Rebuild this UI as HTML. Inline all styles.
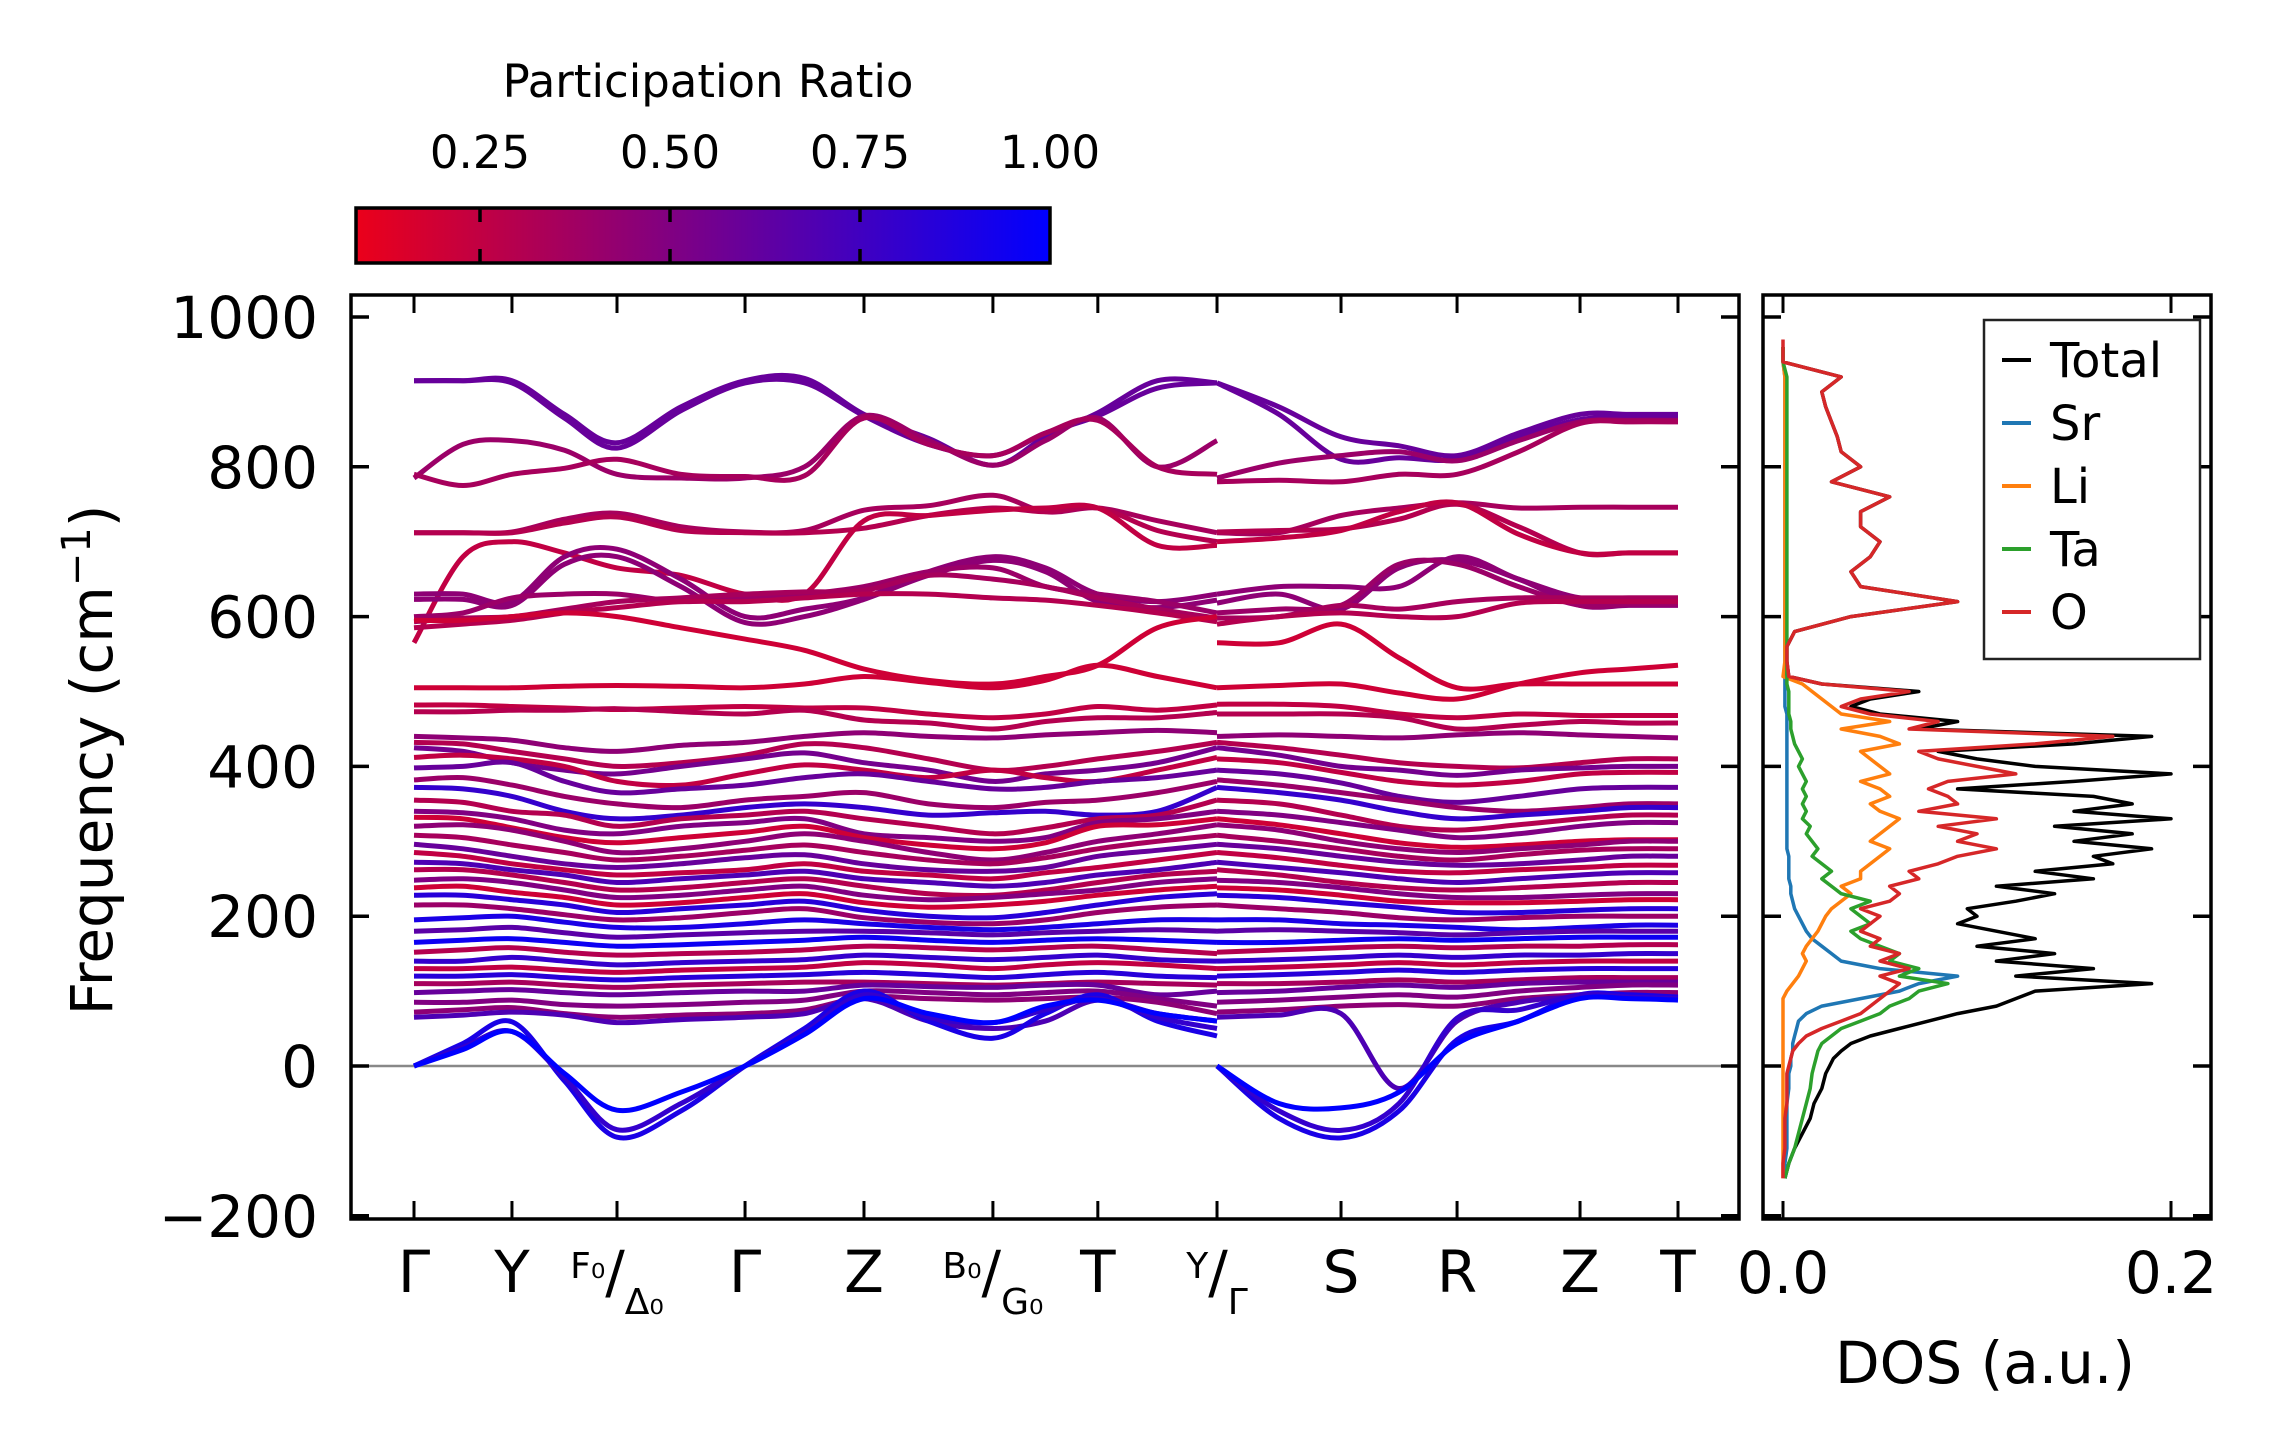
<!DOCTYPE html>
<html><head><meta charset="utf-8"><title>Phonon bands and DOS</title>
<style>
html,body{margin:0;padding:0;background:#fff;}
svg{display:block;font-family:"DejaVu Sans","Liberation Sans",sans-serif;}
</style></head>
<body>
<svg id="fig" width="2277" height="1455" viewBox="0 0 2277 1455" xmlns="http://www.w3.org/2000/svg">
  <defs>
    <linearGradient id="cmap" x1="0" x2="1" y1="0" y2="0">
      <stop offset="0" stop-color="rgb(235,0,26)"/>
      <stop offset="1" stop-color="rgb(0,0,255)"/>
    </linearGradient>
    <clipPath id="bandClip"><rect x="351" y="295" width="1388" height="924"/></clipPath>
    <clipPath id="dosClip"><rect x="1763" y="295" width="448" height="924"/></clipPath>
  </defs>
  <g id="colorbar">
    <text x="708" y="97" font-size="45" text-anchor="middle">Participation Ratio</text>
    <rect x="356" y="208" width="694" height="55" fill="url(#cmap)" stroke="#000" stroke-width="3.5"/>
  </g>
  <g id="bandAxes"></g>
  <g id="dosAxes"></g>
</svg>
<script>
// ===== Band structure data =====
const kLabels = ["Γ","Y","F₀/Δ₀","Γ","Z","B₀/G₀","T","Y/Γ","S","R","Z","T"];
const kPos = [0,0.0775,0.1606,0.2619,0.356,0.458,0.541,0.6353,0.7334,0.8252,0.9225,1.0];
const yTicks = [-200,0,200,400,600,800,1000];
const cbarTicks = [0.25,0.50,0.75,1.00];
const cbarTickLabels = ["0.25","0.50","0.75","1.00"];
const bandsSeg1 = [
[915,915,915,870,832,880,915,918,870,838,802,840,872,915,912],
[915,915,912,865,825,875,912,912,868,830,815,845,868,905,912],
[785,830,835,822,790,785,785,800,868,835,802,835,865,800,835],
[790,775,790,798,810,790,787,788,865,830,815,845,862,800,790],
[712,712,713,730,738,720,713,715,742,748,762,740,745,728,712],
[712,712,712,725,733,715,712,712,718,735,745,740,745,715,700],
[565,680,700,685,665,655,630,630,728,735,742,745,745,695,695],
[630,630,620,680,690,650,600,610,625,660,680,665,630,620,630],
[623,623,615,670,680,640,592,600,623,655,675,660,620,612,622],
[600,605,625,630,630,620,625,630,640,660,665,640,630,620,605],
[593,598,600,610,620,625,630,633,635,655,650,640,625,610,598],
[585,590,595,605,612,620,620,625,630,630,625,622,615,605,593],
[595,595,600,605,600,585,570,555,530,515,510,520,535,585,600],
[505,505,505,507,508,507,505,510,520,512,505,515,535,520,505],
[482,482,480,478,476,478,480,478,478,470,465,470,480,475,482],
[473,473,475,475,477,473,470,475,462,458,450,460,465,465,472],
[440,438,435,425,420,428,432,440,445,440,438,442,445,448,445],
[432,430,420,410,400,405,415,430,425,410,395,400,410,420,432],
[425,420,405,395,390,400,410,418,405,395,380,390,395,405,425],
[412,415,410,400,380,375,390,402,395,385,395,385,380,395,412],
[398,400,405,380,365,370,375,385,390,380,370,372,380,385,395],
[382,385,375,360,350,345,355,360,365,350,345,352,355,365,380],
[372,370,360,340,330,335,345,350,345,335,338,340,335,340,372],
[355,352,340,335,320,330,335,340,330,320,310,318,330,335,355],
[340,338,330,315,310,320,325,330,310,305,300,305,325,330,340],
[332,330,318,305,298,305,312,320,305,295,290,298,320,322,330],
[320,322,315,300,285,290,300,310,300,285,275,285,300,310,322],
[308,305,295,285,275,280,288,295,285,275,270,278,290,300,308],
[296,290,280,270,265,270,278,282,270,262,260,265,280,288,296],
[285,280,270,262,255,258,262,270,260,255,250,258,265,275,285],
[272,270,262,255,245,250,255,260,250,245,240,245,255,262,272],
[262,262,255,245,235,238,245,250,240,230,228,235,245,255,260],
[248,250,245,235,225,228,235,240,228,222,225,230,235,245,250],
[238,240,232,225,215,218,225,230,218,212,215,220,228,235,240],
[228,228,222,215,205,210,215,220,208,200,198,205,215,225,230],
[215,215,210,202,195,198,205,210,198,192,190,195,205,212,215],
[195,198,200,192,185,185,190,195,190,185,182,185,190,195,195],
[180,182,185,178,172,175,178,180,180,178,175,178,180,182,180],
[165,168,170,165,160,162,165,168,172,168,165,168,170,168,165],
[152,155,158,152,148,150,152,155,160,158,155,158,160,155,150],
[140,140,145,140,135,138,140,142,148,145,142,145,148,142,140],
[130,130,132,128,125,128,130,132,138,135,130,135,138,135,130],
[120,120,122,118,115,118,120,122,125,122,118,122,125,120,118],
[110,110,112,108,105,108,110,112,112,110,108,110,112,110,108],
[98,100,102,98,95,98,100,100,108,106,105,108,108,95,100],
[85,85,88,82,80,82,85,88,100,98,95,98,100,90,80],
[72,75,78,70,65,68,70,75,92,90,88,90,92,85,70],
[65,68,72,68,58,62,65,70,90,60,50,60,88,70,60],
[0,30,59,-20,-95,-60,0,50,100,60,37,70,95,60,40],
[0,25,46,-15,-85,-50,0,45,95,65,58,75,90,65,50],
[0,22,46,-10,-59,-35,0,42,90,70,58,80,88,70,60]
];
const bandsSeg2 = [
[912,880,840,828,815,845,870,870,870],
[912,870,810,812,810,840,863,866,866],
[785,805,815,820,808,835,860,862,862],
[780,782,780,790,790,820,858,860,860],
[712,712,735,745,752,745,746,746,746],
[713,715,717,730,750,720,685,685,685],
[700,705,715,740,752,710,685,685,685],
[630,640,640,640,680,650,625,625,625],
[618,630,610,665,675,650,615,615,615],
[605,610,615,670,670,640,615,617,617],
[598,600,615,610,620,625,625,625,625],
[590,600,605,600,600,618,620,620,620],
[565,565,590,545,505,510,510,510,510],
[505,508,510,498,490,510,525,530,535],
[483,483,480,470,465,470,468,468,468],
[470,470,470,465,450,455,460,458,458],
[440,442,440,438,442,445,442,440,438],
[432,425,415,405,400,398,405,410,410],
[425,415,400,395,388,395,398,400,400],
[410,405,392,380,375,380,390,392,392],
[395,390,378,360,352,360,370,372,372],
[382,375,365,355,345,340,345,350,350],
[372,365,355,340,330,335,340,345,345],
[355,350,335,320,315,322,330,335,335],
[340,335,325,315,305,310,320,325,325],
[330,322,310,298,292,295,300,302,302],
[322,315,300,290,285,290,295,300,300],
[308,300,290,280,275,282,288,290,290],
[296,290,280,272,268,270,275,280,280],
[285,278,268,260,258,262,265,268,268],
[272,265,258,250,245,250,255,258,258],
[262,255,245,238,235,238,242,245,245],
[248,245,238,230,225,225,228,230,230],
[238,235,228,220,218,218,220,222,222],
[228,225,218,212,205,205,208,210,210],
[215,210,205,198,195,198,200,200,200],
[195,195,190,188,185,182,185,188,188],
[180,182,180,178,175,178,180,180,180],
[165,165,168,170,168,170,172,172,172],
[152,155,158,160,158,160,160,162,162],
[140,142,145,148,145,148,148,150,150],
[130,132,135,138,135,138,140,140,140],
[120,122,125,128,125,128,130,130,130],
[110,110,112,115,112,115,118,118,118],
[98,100,105,108,105,110,112,112,112],
[85,88,92,95,92,100,105,108,108],
[72,75,80,82,80,90,95,98,98],
[65,68,70,-30,60,85,92,92,92],
[0,-70,-96,-60,35,60,95,95,92],
[0,-60,-86,-50,64,75,95,92,90],
[0,-50,-56,-35,30,60,90,90,88]
];
const bandRatio = [0.6,0.6,0.4,0.35,0.35,0.3,0.25,0.45,0.45,0.4,0.35,0.3,0.2,0.2,0.25,0.3,
0.45,0.3,0.55,0.25,0.6,0.4,0.8,0.3,0.5,0.2,0.45,0.35,0.6,0.25,0.7,0.3,0.5,0.2,0.85,0.4,0.9,0.65,0.95,0.3,0.8,0.25,0.85,0.35,0.6,0.5,0.45,0.7,0.9,0.8,1.0];

// ===== DOS data =====
const dosFreq = [-150,-130,-110,-90,-70,-50,-30,-10,
0,10,20,30,40,50,60,70,80,90,100,110,120,130,140,150,160,170,180,190,200,210,220,230,240,250,260,270,280,290,300,310,320,330,340,350,360,370,380,390,400,410,420,430,440,450,460,470,480,490,500,510,520,
540,560,580,600,620,640,660,680,700,720,740,760,780,800,820,840,860,880,900,920,940,960];
const dosTotal = [0.001,0.003,0.006,0.01,0.014,0.016,0.02,0.022,
0.024,0.026,0.03,0.035,0.045,0.06,0.075,0.09,0.11,0.12,0.13,0.19,0.12,0.16,0.11,0.14,0.1,0.13,0.11,0.09,0.1,0.095,0.12,0.14,0.11,0.16,0.13,0.17,0.16,0.19,0.15,0.18,0.14,0.2,0.15,0.18,0.16,0.09,0.15,0.2,0.13,0.1,0.08,0.15,0.19,0.07,0.09,0.05,0.035,0.045,0.07,0.02,0.003,
0.002,0.002,0.006,0.035,0.09,0.04,0.035,0.045,0.05,0.04,0.04,0.055,0.025,0.04,0.03,0.028,0.025,0.022,0.02,0.03,0,0];
const dosSr = [0.001,0.001,0.002,0.002,0.002,0.002,0.003,0.003,
0.004,0.004,0.005,0.005,0.006,0.007,0.008,0.012,0.02,0.04,0.06,0.07,0.09,0.05,0.03,0.025,0.02,0.015,0.012,0.01,0.008,0.006,0.005,0.004,0.004,0.003,0.003,0.003,0.003,0.002,0.002,0.002,0.002,0.002,0.002,0.002,0.002,0.002,0.002,0.002,0.002,0.002,0.002,0.002,0.002,0.002,0.002,0.002,0.001,0.001,0.001,0.001,0.001,
0.001,0.001,0.001,0.001,0.001,0.001,0.001,0.001,0.001,0.001,0.001,0.001,0.001,0.001,0.001,0.001,0.001,0.001,0.001,0.001,0,0];
const dosLi = [0,0,0,0,0,0,0,0,
0,0,0,0,0,0,0,0,0,0,0.002,0.005,0.008,0.01,0.012,0.01,0.012,0.015,0.018,0.02,0.022,0.025,0.03,0.035,0.03,0.04,0.04,0.045,0.05,0.055,0.045,0.05,0.055,0.06,0.05,0.045,0.055,0.05,0.04,0.055,0.05,0.045,0.04,0.06,0.05,0.03,0.055,0.03,0.025,0.02,0.015,0.01,0,
0.001,0.001,0.001,0.001,0.001,0.001,0.001,0.001,0.001,0.001,0.001,0.001,0.001,0.001,0.001,0.001,0.001,0.001,0.001,0.001,0,0];
const dosTa = [0.001,0.003,0.006,0.008,0.01,0.012,0.014,0.015,
0.016,0.017,0.018,0.02,0.025,0.03,0.04,0.05,0.055,0.065,0.07,0.085,0.06,0.07,0.055,0.06,0.05,0.04,0.035,0.045,0.04,0.035,0.045,0.03,0.025,0.02,0.025,0.02,0.015,0.018,0.015,0.012,0.014,0.01,0.012,0.01,0.012,0.01,0.012,0.01,0.008,0.01,0.008,0.006,0.005,0.004,0.004,0.003,0.003,0.003,0.003,0.002,0.002,
0.002,0.002,0.002,0.002,0.002,0.002,0.002,0.002,0.002,0.002,0.002,0.002,0.002,0.002,0.002,0.002,0.002,0.002,0.002,0.002,0,0];
const dosO = [0,0,0.001,0.001,0.001,0.002,0.002,0.002,
0.003,0.004,0.005,0.008,0.012,0.02,0.03,0.04,0.045,0.05,0.055,0.06,0.05,0.065,0.05,0.06,0.045,0.05,0.04,0.045,0.05,0.04,0.055,0.06,0.055,0.07,0.065,0.08,0.09,0.11,0.09,0.1,0.08,0.11,0.07,0.09,0.085,0.075,0.085,0.12,0.1,0.08,0.07,0.13,0.17,0.065,0.08,0.045,0.03,0.04,0.065,0.02,0.003,
0.002,0.002,0.006,0.035,0.09,0.04,0.035,0.045,0.05,0.04,0.04,0.055,0.025,0.04,0.03,0.028,0.025,0.022,0.02,0.03,0,0];
const dosSeries = ["Total","Sr","Li","Ta","O"];
const dosColors = ["#000000","#1f77b4","#ff7f0e","#2ca02c","#d62728"];
const dosTicks = [0.0,0.2];
const dosTickLabels = ["0.0","0.2"];

// ===== geometry =====
const NS = "http://www.w3.org/2000/svg";
const PL = 351, PR = 1739, PT = 295, PB = 1219;
const DL = 1763, DR = 2211;
const Y0PX = 1066, YPER = 0.749;
const yScale = v => Y0PX - v * YPER;
const kx = t => 414 + t * 1264;
const dosX = v => 1783 + v * 1940;
const cbX = v => 480 + (v - 0.25) * 760;

function el(tag, attrs, parent) {
  const e = document.createElementNS(NS, tag);
  for (const k in attrs) e.setAttribute(k, attrs[k]);
  parent.appendChild(e);
  return e;
}
function cmapColor(r) {
  const t = Math.max(0, Math.min(1, (r - 0.0875) / 0.9125));
  const R = Math.round(235 * (1 - t)), B = Math.round(26 + (255 - 26) * t);
  return `rgb(${R},0,${B})`;
}
function crPath(pts) {
  let d = `M${pts[0][0].toFixed(1)},${pts[0][1].toFixed(1)}`;
  for (let i = 0; i < pts.length - 1; i++) {
    const p0 = pts[Math.max(0, i - 1)], p1 = pts[i], p2 = pts[i + 1], p3 = pts[Math.min(pts.length - 1, i + 2)];
    const c1x = p1[0] + (p2[0] - p0[0]) / 6, c1y = p1[1] + (p2[1] - p0[1]) / 6;
    const c2x = p2[0] - (p3[0] - p1[0]) / 6, c2y = p2[1] - (p3[1] - p1[1]) / 6;
    d += ` C${c1x.toFixed(1)},${c1y.toFixed(1)} ${c2x.toFixed(1)},${c2y.toFixed(1)} ${p2[0].toFixed(1)},${p2[1].toFixed(1)}`;
  }
  return d;
}
function nodeT(seg, i) {
  const base = seg === 1 ? 0 : 7;
  const j = Math.floor(i / 2);
  if (i % 2 === 0) return kPos[base + j];
  return (kPos[base + j] + kPos[base + j + 1]) / 2;
}

// ===== colorbar ticks =====
const cb = document.getElementById('colorbar');
cbarTicks.forEach((v, i) => {
  const x = cbX(v);
  if (v < 1) {
    const t1 = el('line', {x1: x, x2: x, y1: 208, y2: 222, stroke: '#000', 'stroke-width': 3.5}, cb);
    
    
    const t2 = el('line', {x1: x, x2: x, y1: 249, y2: 263, stroke: '#000', 'stroke-width': 3.5}, cb);
    
    
  }
  const lab = el('text', {x: x, y: 168, 'font-size': 45, 'text-anchor': 'middle'}, cb);
  lab.textContent = cbarTickLabels[i];
  
  
});

// ===== band axes =====
const ba = document.getElementById('bandAxes');
const zl = el('line', {x1: PL, x2: PR, y1: yScale(0), y2: yScale(0), stroke: '#888', 'stroke-width': 2.5}, ba);


const bandsG = el('g', {'clip-path': 'url(#bandClip)'}, ba);


bandsSeg1.forEach((vals, b) => {
  const col = cmapColor(bandRatio[b]);
  const p1 = vals.map((v, i) => [kx(nodeT(1, i)), yScale(v)]);
  const path1 = el('path', {d: crPath(p1), fill: 'none', stroke: col, 'stroke-width': 5, 'stroke-linejoin': 'round'}, bandsG);
  
  
  const p2 = bandsSeg2[b].map((v, i) => [kx(nodeT(2, i)), yScale(v)]);
  const path2 = el('path', {d: crPath(p2), fill: 'none', stroke: col, 'stroke-width': 5, 'stroke-linejoin': 'round'}, bandsG);
  
  
});
const frame = el('rect', {x: PL, y: PT, width: PR - PL, height: PB - PT, fill: 'none', stroke: '#000', 'stroke-width': 3.5}, ba);


yTicks.forEach(v => {
  const y = yScale(v);
  const a = el('line', {x1: PL, x2: PL + 18, y1: y, y2: y, stroke: '#000', 'stroke-width': 3.5}, ba);
  
  
  const b = el('line', {x1: PR - 18, x2: PR, y1: y, y2: y, stroke: '#000', 'stroke-width': 3.5}, ba);
  
  
  const t = el('text', {x: 318, y: y + 21, 'font-size': 58, 'text-anchor': 'end'}, ba);
  t.textContent = v < 0 ? '\u2212' + Math.abs(v) : String(v);
  
  
});
kPos.forEach((t, i) => {
  const x = kx(t);
  const a = el('line', {x1: x, x2: x, y1: PB - 18, y2: PB, stroke: '#000', 'stroke-width': 3}, ba);
  
  
  const b = el('line', {x1: x, x2: x, y1: PT, y2: PT + 18, stroke: '#000', 'stroke-width': 3}, ba);
  
  
  const lbl = kLabels[i];
  const tx = el('text', {x: x, y: 1292, 'font-size': 58, 'text-anchor': 'middle'}, ba);
  
  
  if (lbl.indexOf('/') < 0) {
    tx.textContent = lbl;
  } else {
    const parts = lbl.split('/');
    const s1 = el('tspan', {'font-size': 36, dy: -14}, tx);
    s1.textContent = parts[0];
    const s2 = el('tspan', {'font-size': 58, dy: 14}, tx);
    s2.textContent = '/';
    const s3 = el('tspan', {'font-size': 36, dy: 22}, tx);
    s3.textContent = parts[1];
  }
});
const yl = el('text', {x: 0, y: 0, 'font-size': 58, 'text-anchor': 'middle', transform: 'translate(112,760) rotate(-90)'}, ba);


yl.textContent = 'Frequency (cm';
const sup = el('tspan', {'font-size': 40, dy: -22}, yl);
sup.textContent = '\u22121';
const cl = el('tspan', {'font-size': 58, dy: 22}, yl);
cl.textContent = ')';

// ===== DOS axes =====
const da = document.getElementById('dosAxes');
const dosG = el('g', {'clip-path': 'url(#dosClip)'}, da);


const dosData = [dosTotal, dosSr, dosLi, dosTa, dosO];
dosData.forEach((arr, s) => {
  const pts = arr.map((v, i) => `${dosX(v).toFixed(1)},${yScale(dosFreq[i]).toFixed(1)}`);
  if (s === 4) pts.push(`${dosX(0).toFixed(1)},${yScale(970).toFixed(1)}`);
  const pl = el('polyline', {points: pts.join(' '), fill: 'none', stroke: dosColors[s], 'stroke-width': 3.5, 'stroke-linejoin': 'round'}, dosG);
  
  
});
const dframe = el('rect', {x: DL, y: PT, width: DR - DL, height: PB - PT, fill: 'none', stroke: '#000', 'stroke-width': 3.5}, da);


yTicks.forEach(v => {
  const y = yScale(v);
  const a = el('line', {x1: DL, x2: DL + 18, y1: y, y2: y, stroke: '#000', 'stroke-width': 3.5}, da);
  
  
  const b = el('line', {x1: DR - 18, x2: DR, y1: y, y2: y, stroke: '#000', 'stroke-width': 3.5}, da);
  
  
});
dosTicks.forEach((v, i) => {
  const x = dosX(v);
  const a = el('line', {x1: x, x2: x, y1: PB - 18, y2: PB, stroke: '#000', 'stroke-width': 3}, da);
  
  
  const b = el('line', {x1: x, x2: x, y1: PT, y2: PT + 18, stroke: '#000', 'stroke-width': 3}, da);
  
  
  const t = el('text', {x: x, y: 1293, 'font-size': 58, 'text-anchor': 'middle'}, da);
  t.textContent = dosTickLabels[i];
  
  
});
const dxl = el('text', {x: 1985, y: 1383, 'font-size': 58, 'text-anchor': 'middle'}, da);
dxl.textContent = 'DOS (a.u.)';



// legend
const lg = el('g', {}, da);


const lbox = el('rect', {x: 1984, y: 320, width: 216, height: 339, fill: '#fff', stroke: '#222', 'stroke-width': 2.5}, lg);


dosSeries.forEach((name, i) => {
  const cy = 360 + i * 63;
  const ln = el('line', {x1: 2002, x2: 2031, y1: cy, y2: cy, stroke: dosColors[i], 'stroke-width': 4}, lg);
  
  
  const tx = el('text', {x: 2050, y: cy + 17, 'font-size': 48}, lg);
  tx.textContent = name;
  
  
});
</script>
</body></html>
